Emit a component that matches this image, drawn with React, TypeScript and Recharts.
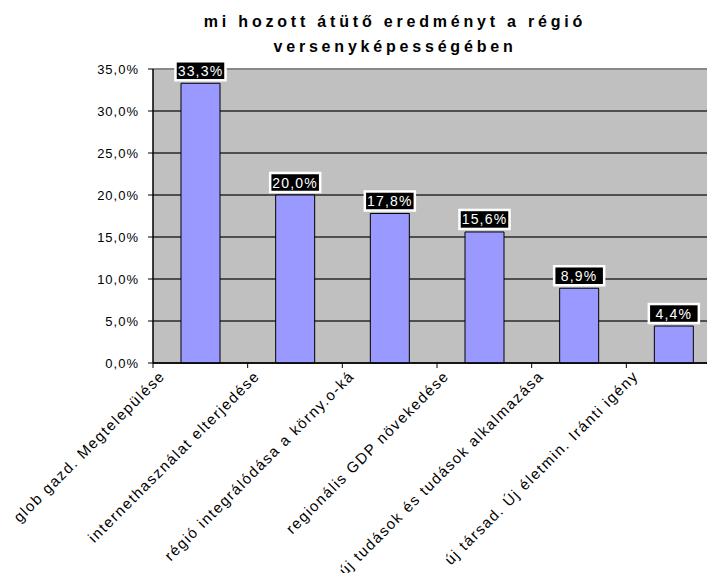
import React from "react";
import {
  BarChart,
  Bar,
  XAxis,
  YAxis,
  CartesianGrid,
  LabelList,
  ReferenceLine,
} from "recharts";

const categories = [
  "glob gazd. Megtelepülése",
  "internethasználat elterjedése",
  "régió integrálódása a körny.o-ká",
  "regionális GDP növekedése",
  "új tudások és tudások alkalmazása",
  "új társad. Új életmin. Iránti igény",
];
const shares = [0.333, 0.2, 0.178, 0.156, 0.089, 0.044];
const yTicks = [0, 0.05, 0.1, 0.15, 0.2, 0.25, 0.3, 0.35];
const titleLines = ["mi hozott átütő eredményt a régió", "versenyképességében"];

const data = categories.map((name, i) => ({ name, value: shares[i] }));

const FONT = "'Liberation Sans', Arial, sans-serif";

const pct = (v: number) => (v * 100).toFixed(1).replace(".", ",") + "%";

// Excel puts the category ticks on the band edges, so the label hangs off the left edge
function CategoryTick(props: any) {
  const { x, y, payload } = props;
  const half = payload && payload.offset ? payload.offset : 47.3;
  const bx = x - half;
  return (
    <g>
      <line x1={bx} y1={y - 5} x2={bx} y2={y} stroke="#000" strokeWidth={1} />
      <g transform={`translate(${bx + 13},${y + 9})`}>
        <text
          textAnchor="end"
          transform="rotate(-45)"
          fontFamily={FONT}
          fontSize={15}
          letterSpacing={1.5}
          fill="#000"
        >
          {payload.value}
        </text>
      </g>
    </g>
  );
}

function ValueBox(props: any) {
  const { x, y, width, value } = props;
  const cx = x + width / 2;
  const w = 50;
  const h = 19;
  return (
    <g>
      <rect
        x={cx - w / 2}
        y={y - h - 3}
        width={w}
        height={h}
        fill="#000"
        stroke="#fff"
        strokeWidth={2.5}
      />
      <text
        x={cx}
        y={y - 7.5}
        textAnchor="middle"
        fontFamily={FONT}
        fontSize={14}
        letterSpacing={1.2}
        fill="#fff"
      >
        {pct(value)}
      </text>
    </g>
  );
}

export default function App() {
  return (
    <div
      style={{
        position: "relative",
        width: 715,
        height: 581,
        margin: -8,
        overflow: "hidden",
        background: "#fff",
      }}
    >
      <div
        style={{
          position: "absolute",
          left: 145,
          width: 500,
          top: 9,
          textAlign: "center",
          fontFamily: FONT,
          fontWeight: "bold",
          fontSize: 16,
          letterSpacing: 3.8,
          lineHeight: "25px",
        }}
      >
        {titleLines.map((t) => (
          <div key={t}>{t}</div>
        ))}
      </div>
      <BarChart
        width={730}
        height={581}
        data={data}
        margin={{ top: 69, right: 9, left: 93, bottom: 18 }}
        barCategoryGap={28}
      >
        <CartesianGrid
          vertical={false}
          stroke="#2a2a2a"
          strokeWidth={1.4}
          fill="#C0C0C0"
          fillOpacity={1}
        />
        <XAxis
          dataKey="name"
          interval={0}
          height={200}
          axisLine={{ stroke: "#000", strokeWidth: 1.5 }}
          tickLine={false}
          tickSize={5}
          tickMargin={0}
          tick={<CategoryTick />}
        />
        <YAxis
          domain={[0, 0.35]}
          ticks={yTicks}
          width={60}
          tickFormatter={pct}
          axisLine={{ stroke: "#000", strokeWidth: 1.5 }}
          tickLine={{ stroke: "#000" }}
          tickSize={5}
          tickMargin={9}
          tick={{ fontFamily: FONT, fontSize: 13, fill: "#000", letterSpacing: 1 }}
          interval={0}
        />
        <ReferenceLine y={0.35} stroke="#888" strokeWidth={2} />
        <Bar
          dataKey="value"
          fill="#9999FF"
          stroke="#000"
          strokeWidth={1}
          isAnimationActive={false}
        >
          <LabelList dataKey="value" content={<ValueBox />} />
        </Bar>
      </BarChart>
    </div>
  );
}
